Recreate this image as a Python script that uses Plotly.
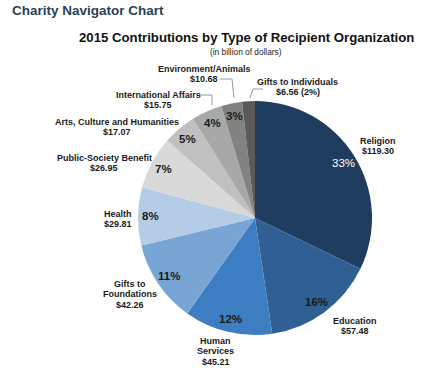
import math
import plotly.graph_objects as go

W, H = 425, 379

categories = ["Religion", "Education", "Human Services", "Gifts to Foundations", "Health",
              "Public-Society Benefit", "Arts, Culture and Humanities", "International Affairs",
              "Environment/Animals", "Gifts to Individuals"]
values = [119.30, 57.48, 45.21, 42.26, 29.81, 26.95, 17.07, 15.75, 10.68, 6.56]
pct_labels = ["33%", "16%", "12%", "11%", "8%", "7%", "5%", "4%", "3%", ""]
outside_labels = [["Religion", "$119.30"], ["Education", "$57.48"],
                  ["Human", "Services", "$45.21"], ["Gifts to", "Foundations", "$42.26"],
                  ["Health", "$29.81"], ["Public-Society Benefit", "$26.95"],
                  ["Arts, Culture and Humanities", "$17.07"],
                  ["International Affairs", "$15.75"], ["Environment/Animals", "$10.68"],
                  ["Gifts to Individuals", "$6.56 (2%)"]]
colors = ["#1f3d5e", "#2f5f93", "#3d7dc2", "#79a5d5", "#b5cce7",
          "#d9d9d9", "#c0c0c0", "#a8a8a8", "#828282", "#5a5a5a"]

FONT = "Arial, Liberation Sans, sans-serif"

# pie geometry in window pixels
CX, CY, R = 255, 218, 117

def px(x):
    return x / W

def py(y):
    return 1 - y / H

fig = go.Figure(go.Pie(
    labels=categories, values=values, sort=False, direction="clockwise", rotation=0,
    marker=dict(colors=colors, line=dict(width=0)), textinfo="none", hoverinfo="label+value",
    domain=dict(x=[px(CX - R), px(CX + R)], y=[py(CY + R), py(CY - R)]),
    showlegend=False,
))

annotations = []
# percentage labels placed along each slice's mid-angle
total = sum(values)
cum = 0.0
for v, lab, col in zip(values, pct_labels, colors):
    mid = (cum + v / 2) / total * 2 * math.pi
    cum += v
    if not lab:
        continue
    rr = 0.89 * R
    x = CX + rr * math.sin(mid)
    y = CY - rr * math.cos(mid)
    white = col == "#1f3d5e"
    annotations.append(dict(
        x=px(x), y=py(y), xref="paper", yref="paper", text=lab, showarrow=False,
        font=dict(family=FONT, size=11.5, color="white" if white else "#1a1a1a",
                  weight="normal" if white else "bold"),
        xanchor="center", yanchor="middle"))

# outside labels: (x, first-line y, anchor)
label_pos = [(378, 141, "center"), (355, 321, "center"), (216, 341, "center"),
             (130, 284, "center"), (102, 214, "left"), (104, 158, "center"),
             (117, 122, "center"), (158, 95, "center"), (204, 69, "center"),
             (297.5, 82, "center")]
LINE = 10.3
for lines, (x, y0, anc) in zip(outside_labels, label_pos):
    for i, t in enumerate(lines):
        annotations.append(dict(
            x=px(x), y=py(y0 + i * LINE), xref="paper", yref="paper", text=t, showarrow=False,
            font=dict(family=FONT, size=9, color="#1a1a1a", weight="bold"),
            xanchor=anc, yanchor="middle"))

# titles
annotations.append(dict(x=px(10), y=py(11), xref="paper", yref="paper",
                        text="Charity Navigator Chart", showarrow=False,
                        font=dict(family=FONT, size=13.5, color="#2b3f56", weight="bold"),
                        xanchor="left", yanchor="middle"))
annotations.append(dict(x=px(246), y=py(38), xref="paper", yref="paper",
                        text="2015 Contributions by Type of Recipient Organization",
                        showarrow=False,
                        font=dict(family=FONT, size=13.2, color="#111111", weight="bold"),
                        xanchor="center", yanchor="middle"))
annotations.append(dict(x=px(246), y=py(52), xref="paper", yref="paper",
                        text="(in billion of dollars)", showarrow=False,
                        font=dict(family=FONT, size=8.3, color="#222222"),
                        xanchor="center", yanchor="middle"))

# leader lines
leaders = [
    [(199, 95), (212, 95), (212, 105)],
    [(220, 79), (232, 79), (234, 98)],
    [(250, 98), (253, 89), (263, 89)],
]
shapes = []
for pts in leaders:
    path = "M " + " L ".join(f"{px(x)},{py(y)}" for x, y in pts)
    shapes.append(dict(type="path", path=path, xref="paper", yref="paper",
                       line=dict(color="#8a9bb0", width=1)))

fig.update_layout(
    width=W, height=H, autosize=False,
    margin=dict(l=0, r=0, t=0, b=0),
    paper_bgcolor="white", plot_bgcolor="white",
    annotations=annotations, shapes=shapes,
)

fig.write_html("out.html", config={"displayModeBar": False},
               post_script="document.body.style.margin='0';document.body.style.overflow='hidden';")
